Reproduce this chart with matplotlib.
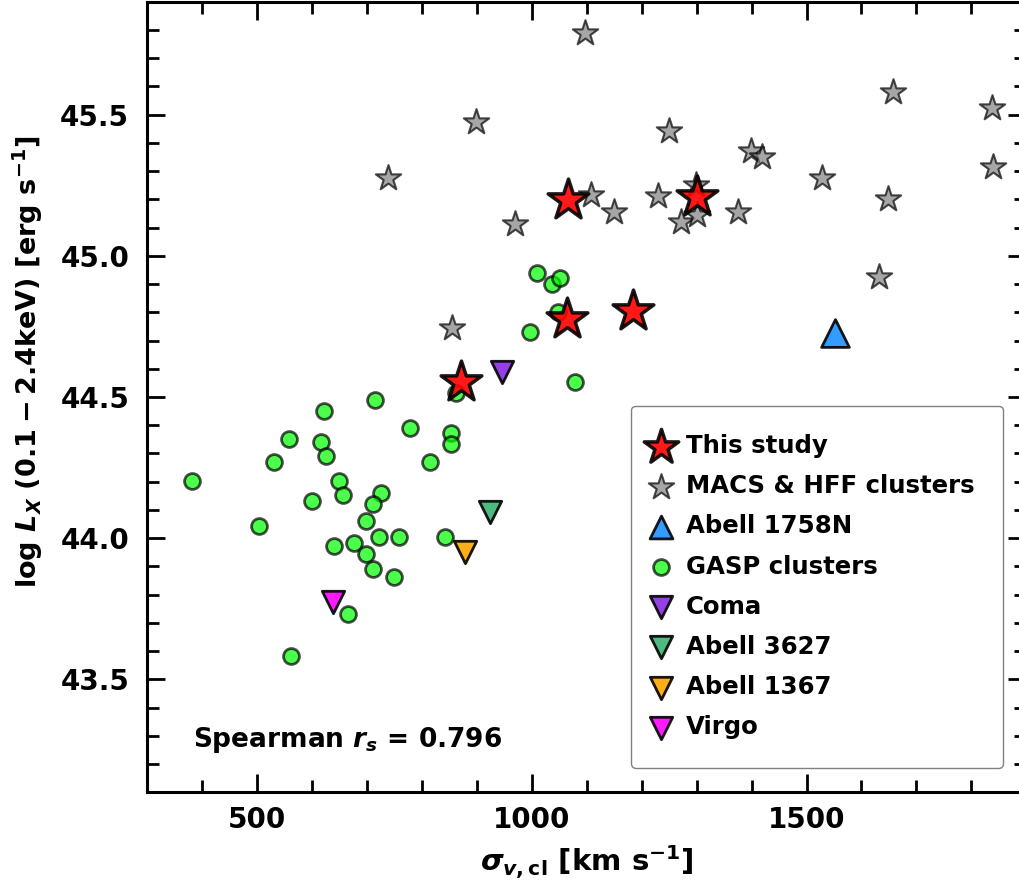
import numpy as np
import matplotlib
matplotlib.use("Agg")
import matplotlib.pyplot as plt
from matplotlib.ticker import MultipleLocator

plt.rcParams['font.family'] = ['DejaVu Sans']
plt.rcParams['font.weight'] = 'bold'
plt.rcParams['axes.labelweight'] = 'bold'
plt.rcParams['mathtext.fontset'] = 'custom'
plt.rcParams['mathtext.rm'] = 'DejaVu Sans:bold'
plt.rcParams['mathtext.it'] = 'DejaVu Sans:italic:bold'
plt.rcParams['mathtext.bf'] = 'DejaVu Sans:bold'

# velocity dispersion [km/s] and log L_X [erg/s]
this_sig = [871, 1064, 1066, 1184, 1300]
this_lx = [44.554, 44.778, 45.197, 44.805, 45.207]

macs_sig = [1097, 899, 739, 969, 1108, 1149, 1229, 1249, 1272, 1300, 1298,
            1376, 1399, 1419, 1529, 1631, 1649, 1658, 1837, 1839, 855]
macs_lx = [45.79, 45.474, 45.276, 45.111, 45.215, 45.156, 45.212, 45.443,
           45.12, 45.144, 45.25, 45.155, 45.372, 45.351, 45.276, 44.926,
           45.203, 45.581, 45.522, 45.315, 44.743]

a1758_sig = [1551]
a1758_lx = [44.725]

gasp_sig = [1010, 1037, 1051, 1047, 996, 862, 1078, 714, 621, 778, 852, 852,
            558, 616, 625, 531, 815, 381, 649, 657, 726, 710, 599, 699, 503,
            721, 759, 841, 640, 676, 699, 710, 749, 666, 561]
gasp_lx = [44.94, 44.90, 44.922, 44.80, 44.731, 44.513, 44.552, 44.49, 44.452,
           44.391, 44.371, 44.332, 44.351, 44.341, 44.291, 44.271, 44.271,
           44.202, 44.202, 44.152, 44.161, 44.121, 44.132, 44.062, 44.042,
           44.003, 44.003, 44.003, 43.972, 43.982, 43.943, 43.892, 43.862,
           43.731, 43.582]

coma_sig, coma_lx = [946], [44.589]
a3627_sig, a3627_lx = [924], [44.093]
a1367_sig, a1367_lx = [879], [43.952]
virgo_sig, virgo_lx = [638], [43.775]

rs = 0.796

fig = plt.figure(figsize=(10.2, 8.81), dpi=100)
ax = fig.add_axes([0.14441, 0.10068, 0.86176, 0.89739])

ax.scatter(macs_sig, macs_lx, marker='*', s=370, c='gray', edgecolors='k',
           linewidths=1.5, alpha=0.7, zorder=3, label='MACS & HFF clusters')
ax.scatter(a1758_sig, a1758_lx, marker='^', s=400, c='dodgerblue',
           edgecolors='k', linewidths=2, alpha=0.9, zorder=4,
           label='Abell 1758N')
ax.scatter(gasp_sig, gasp_lx, marker='o', s=130, c='lime', edgecolors='k',
           linewidths=2, alpha=0.7, zorder=2, label='GASP clusters')
ax.scatter(coma_sig, coma_lx, marker='v', s=260, c='blueviolet',
           edgecolors='k', linewidths=2, alpha=0.9, zorder=4, label='Coma')
ax.scatter(a3627_sig, a3627_lx, marker='v', s=260, c='mediumseagreen',
           edgecolors='k', linewidths=2, alpha=0.9, zorder=4,
           label='Abell 3627')
ax.scatter(a1367_sig, a1367_lx, marker='v', s=260, c='orange',
           edgecolors='k', linewidths=2, alpha=0.9, zorder=4,
           label='Abell 1367')
ax.scatter(virgo_sig, virgo_lx, marker='v', s=260, c='magenta',
           edgecolors='k', linewidths=2, alpha=0.9, zorder=4, label='Virgo')
ax.scatter(this_sig, this_lx, marker='*', s=950, c='red', edgecolors='k',
           linewidths=2.5, alpha=0.9, zorder=5, label='This study')

ax.set_xlim(300, 1900)
ax.set_ylim(43.1, 45.9)
ax.xaxis.set_major_locator(MultipleLocator(500))
ax.xaxis.set_minor_locator(MultipleLocator(100))
ax.yaxis.set_major_locator(MultipleLocator(0.5))
ax.yaxis.set_minor_locator(MultipleLocator(0.1))
ax.tick_params(which='both', direction='in', top=True, right=True, width=2,
               labelsize=20)
ax.tick_params(axis='x', pad=10)
ax.tick_params(axis='y', pad=13)
ax.tick_params(which='major', length=12.7)
ax.tick_params(which='minor', length=8.6)
for sp in ax.spines.values():
    sp.set_linewidth(2.2)

ax.set_xlabel(r'$\sigma_{v,\rm cl}$ [km s$^{-1}$]', fontsize=21, va='baseline')
ax.set_ylabel(r'log $L_X$ $(0.1-2.4\rm keV)$ [erg s$^{-1}$]', fontsize=19.5,
              va='baseline')
ax.xaxis.set_label_coords(0.5, -0.1004)
ax.yaxis.set_label_coords(-0.1252, 0.544)

ax.text(0.0523, 0.0577, r'Spearman $r_s$ = %.3f' % rs, transform=ax.transAxes,
        fontsize=19, va='baseline')

handles, labels = ax.get_legend_handles_labels()
order = [7, 0, 1, 2, 3, 4, 5, 6]
leg = ax.legend([handles[i] for i in order], [labels[i] for i in order],
                loc='lower right', bbox_to_anchor=(0.9732, 0.0311),
                borderaxespad=0, fontsize=17.6, scatterpoints=1, borderpad=1.17,
                handlelength=0.1, handletextpad=0.95, labelspacing=0.66,
                edgecolor='0.5', framealpha=1)
leg.legend_handles[0].set_sizes([680])
leg.legend_handles[2].set_sizes([270])

fig.savefig('out.png', dpi=100)
